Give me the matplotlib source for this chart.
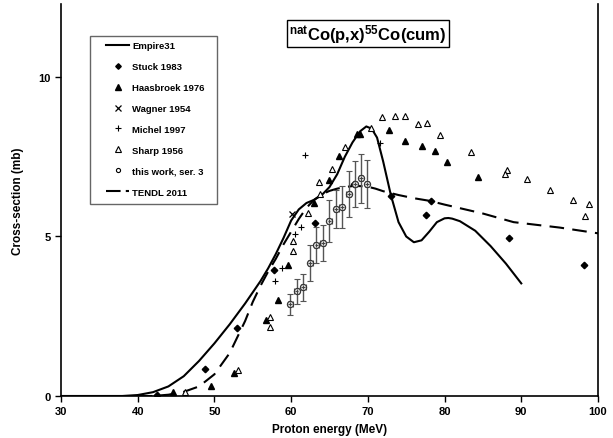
import matplotlib
matplotlib.use("Agg")
import matplotlib.pyplot as plt
from matplotlib.lines import Line2D
from matplotlib.patches import Rectangle

plt.rcParams['font.family'] = ['Liberation Sans', 'DejaVu Sans']
plt.rcParams['font.weight'] = 'bold'
plt.rcParams['mathtext.fontset'] = 'custom'
plt.rcParams['mathtext.rm'] = 'Liberation Sans:bold'
plt.rcParams['mathtext.it'] = 'Liberation Sans:bold'
plt.rcParams['mathtext.bf'] = 'Liberation Sans:bold'
plt.rcParams['mathtext.default'] = 'bf'

# model curves
empire_x = [30, 35, 38, 40, 42, 44, 46, 48, 50, 52, 54, 56, 57, 58, 59, 60, 61, 62, 63, 64, 65,
            66, 67, 68, 69, 69.8, 70.5, 71.2, 72, 73, 74, 75, 76, 77, 78, 79, 80, 80.5, 81, 82,
            84, 86, 88, 90]
empire_y = [0, 0, 0, 0.03, 0.12, 0.3, 0.62, 1.1, 1.65, 2.25, 2.9, 3.6, 4.0, 4.45, 4.95, 5.5, 5.85,
            6.05, 6.15, 6.3, 6.55, 6.95, 7.5, 7.95, 8.3, 8.45, 8.38, 8.1, 7.35, 6.3, 5.45, 5.0,
            4.82, 4.88, 5.15, 5.45, 5.57, 5.58, 5.56, 5.48, 5.18, 4.7, 4.15, 3.53]

tendl_x = [40, 42, 44, 46, 48, 50, 52, 54, 55, 56, 57, 58, 59, 60, 61, 62, 63, 64, 65, 66, 67, 68,
           69, 70, 71, 72, 74, 76, 78, 80, 85, 89, 95, 100]
tendl_y = [0, 0.0, 0.04, 0.13, 0.3, 0.68, 1.35, 2.35, 2.95, 3.45, 3.9, 4.3, 4.75, 5.15, 5.55, 5.9,
           6.15, 6.32, 6.43, 6.5, 6.55, 6.58, 6.58, 6.56, 6.5, 6.42, 6.3, 6.2, 6.12, 6.0, 5.72,
           5.45, 5.28, 5.1]

# experimental data
stuck_x = [42.5, 48.8, 53.0, 57.8, 63.1, 68.2, 73.0, 77.6, 78.2, 88.4, 98.2]
stuck_y = [0.02, 0.85, 2.13, 3.96, 5.42, 6.65, 6.28, 5.67, 6.12, 4.94, 4.12]

haas_x = [44.6, 49.6, 52.6, 56.7, 58.3, 59.6, 63.0, 65.0, 66.3, 68.6, 69.0, 72.7, 74.8, 77.0,
          78.8, 80.3, 84.4]
haas_y = [0.13, 0.32, 0.72, 2.39, 3.02, 4.12, 6.05, 6.77, 7.51, 8.21, 8.21, 8.35, 8.0, 7.85,
          7.69, 7.35, 6.86]

wagner_x = [60.1]
wagner_y = [5.71]

michel_x = [57.9, 58.8, 60.5, 61.3, 61.8, 71.6]
michel_y = [3.62, 4.01, 5.08, 5.29, 7.55, 7.93]

sharp_x = [46.1, 53.1, 57.2, 57.2, 60.3, 60.3, 62.2, 63.8, 63.6, 65.3, 67.0, 70.4, 71.9, 73.5,
           74.8, 76.6, 77.7, 79.4, 83.4, 88.1, 87.9, 90.7, 93.7, 96.7, 98.8, 98.3]
sharp_y = [0.12, 0.83, 2.47, 2.15, 4.56, 4.87, 5.74, 6.33, 6.72, 7.12, 7.81, 8.39, 8.74, 8.79,
           8.77, 8.53, 8.56, 8.18, 7.64, 7.09, 6.96, 6.8, 6.47, 6.14, 6.02, 5.65]

work_x = [59.9, 60.7, 61.6, 62.5, 63.3, 64.1, 65.0, 65.9, 66.6, 67.5, 68.3, 69.1, 69.9]
work_y = [2.88, 3.28, 3.41, 4.16, 4.74, 4.80, 5.48, 5.86, 5.92, 6.33, 6.65, 6.82, 6.65]
work_err = [0.33, 0.39, 0.42, 0.57, 0.57, 0.56, 0.65, 0.59, 0.65, 0.73, 0.73, 0.78, 0.76]
work_xerr = 0.3

fig = plt.figure(figsize=(6.13, 4.39), dpi=100)
ax = fig.add_axes([0.0995, 0.0957, 0.876, 0.893])

h_emp, = ax.plot(empire_x, empire_y, color='black', lw=1.5, zorder=3)
h_stk, = ax.plot(stuck_x, stuck_y, 'D', color='black', ms=3.3, ls='none', zorder=4)
h_haa, = ax.plot(haas_x, haas_y, '^', color='black', ms=4.3, ls='none', zorder=4)
h_wag, = ax.plot(wagner_x, wagner_y, 'x', color='black', ms=4.5, mew=0.9, ls='none', zorder=4)
h_mic, = ax.plot(michel_x, michel_y, '+', color='black', ms=4.5, mew=0.8, ls='none', zorder=4)
h_sha, = ax.plot(sharp_x, sharp_y, '^', mfc='white', mec='black', mew=0.8, ms=4.3, ls='none',
                 zorder=4)
ax.errorbar(work_x, work_y, yerr=work_err, xerr=work_xerr, fmt='o', mfc='#d4d4d4', mec='#333333',
            mew=0.8, ms=4.5, ecolor='#555555', elinewidth=1, capsize=2.5, capthick=1, zorder=5)
# thin cross inside the circles, as in the original
ax.errorbar(work_x, work_y, yerr=0.07, xerr=0.25, fmt='none', ecolor='#444444',
            elinewidth=0.7, capsize=0, zorder=6)
h_ten, = ax.plot(tendl_x, tendl_y, color='black', lw=1.5, ls=(0, (7, 4)), zorder=3)
h_wrk = Line2D([], [], marker='o', ls='none', mfc='white', mec='black', mew=0.8, ms=3.5)
h_ten_leg = Line2D([], [], color='black', lw=1.5, ls=(0, (7, 2.5)))

ax.set_xlim(30, 100)
ax.set_ylim(0, 12.29)
ax.set_xticks(range(30, 101, 10))
ax.set_yticks([0, 5, 10])
ax.tick_params(direction='out', length=4, width=1, labelsize=8)
for lab in ax.get_xticklabels() + ax.get_yticklabels():
    lab.set_fontweight('bold')
ax.spines['top'].set_visible(False)
for s in ['left', 'right', 'bottom']:
    ax.spines[s].set_linewidth(1.2)

ax.set_xlabel('Proton energy (MeV)', fontsize=8.5, fontweight='bold', labelpad=5)
ax.set_ylabel('Cross-section (mb)', fontsize=8.5, fontweight='bold', labelpad=10)

ax.text(70.0, 11.35, r'$^{nat}$Co(p,x)$^{55}$Co(cum)', fontsize=12, fontweight='bold',
        ha='center', va='center',
        bbox=dict(boxstyle='square,pad=0.12', fc='white', ec='black', lw=1))

# legend box drawn separately so side padding can differ from top padding
ax.add_patch(Rectangle((0.054, 0.4898), 0.2365, 0.4286, transform=ax.transAxes,
                       fc='white', ec='#666666', lw=1, zorder=6))
handles = [h_emp, h_stk, h_haa, h_wag, h_mic, h_sha, h_wrk, h_ten_leg]
labels = ['Empire31', 'Stuck 1983', 'Haasbroek 1976', 'Wagner 1954', 'Michel 1997',
          'Sharp 1956', 'this work, ser. 3', 'TENDL 2011']
leg = ax.legend(handles, labels, loc='upper left', bbox_to_anchor=(0.0838, 0.905),
                borderaxespad=0, borderpad=0, fontsize=6.8, frameon=False,
                labelspacing=1.26, handlelength=2.44, handletextpad=0.32, markerscale=0.85)
leg.set_zorder(7)
for t in leg.get_texts():
    t.set_fontweight('bold')

fig.savefig('out.png', dpi=100)
